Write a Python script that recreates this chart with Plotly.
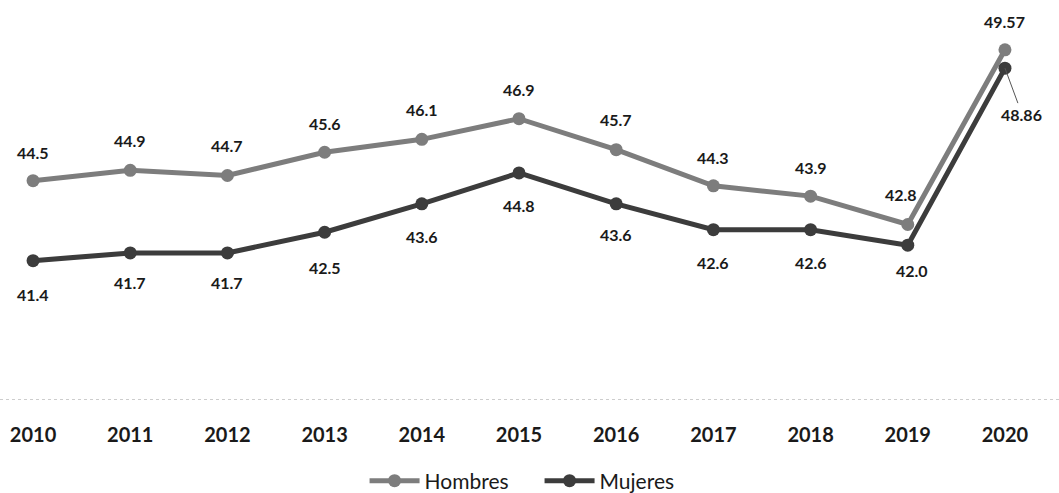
import plotly.graph_objects as go

years = [2010, 2011, 2012, 2013, 2014, 2015, 2016, 2017, 2018, 2019, 2020]
hombres = [44.5, 44.9, 44.7, 45.6, 46.1, 46.9, 45.7, 44.3, 43.9, 42.8, 49.57]
mujeres = [41.4, 41.7, 41.7, 42.5, 43.6, 44.8, 43.6, 42.6, 42.6, 42.0, 48.86]
hombres_labels = ["44.5", "44.9", "44.7", "45.6", "46.1", "46.9", "45.7", "44.3", "43.9", "42.8", "49.57"]
mujeres_labels = ["41.4", "41.7", "41.7", "42.5", "43.6", "44.8", "43.6", "42.6", "42.6", "42.0", "48.86"]

FONT = "Lato"
C_H = "#7d7d7d"
C_M = "#3c3c3c"
TXT = "#1a1a1a"

fig = go.Figure()
fig.add_trace(go.Scatter(
    x=years, y=hombres, name="Hombres", mode="lines+markers",
    line=dict(color=C_H, width=5), marker=dict(size=13, color=C_H),
    hoverinfo="skip"))
fig.add_trace(go.Scatter(
    x=years, y=mujeres, name="Mujeres", mode="lines+markers",
    line=dict(color=C_M, width=5), marker=dict(size=13, color=C_M),
    hoverinfo="skip"))

# label offsets in pixels (xshift, yshift)
h_off = [(0, 28), (0, 30), (0, 30), (0, 29), (0, 30), (0, 29),
         (0, 30), (0, 28), (0, 29), (-7, 30), (0, 28)]
m_off = [(0, -34), (0, -30), (0, -30), (0, -35), (0, -33), (0, -33),
         (0, -31), (0, -33), (0, -33), (4, -25), None]

annotations = []
for x, y, t, o in zip(years, hombres, hombres_labels, h_off):
    annotations.append(dict(x=x, y=y, text="<b>%s</b>" % t, showarrow=False,
                            xshift=o[0], yshift=o[1],
                            font=dict(family=FONT, size=16, color=TXT)))
for x, y, t, o in zip(years, mujeres, mujeres_labels, m_off):
    if o is None:
        annotations.append(dict(x=x, y=y, text="<b>%s</b>" % t, showarrow=True,
                                arrowhead=0, arrowwidth=1, arrowcolor="#555555",
                                ax=17, ay=46,
                                font=dict(family=FONT, size=16, color=TXT)))
    else:
        annotations.append(dict(x=x, y=y, text="<b>%s</b>" % t, showarrow=False,
                                xshift=o[0], yshift=o[1],
                                font=dict(family=FONT, size=16, color=TXT)))

fig.update_layout(
    width=1059, height=493,
    margin=dict(l=0, r=0, t=0, b=93, autoexpand=False),
    paper_bgcolor="white", plot_bgcolor="white",
    showlegend=True,
    legend=dict(orientation="h", x=0.5095, xanchor="center", y=-0.2025, yanchor="middle",
                font=dict(family=FONT, size=21, color=TXT),
                itemwidth=50, entrywidth=110, tracegroupgap=0),
    annotations=annotations,
    shapes=[dict(type="line", xref="paper", yref="y", x0=0, x1=1, y0=36, y1=36,
                 line=dict(color="#9a9a9a", width=1, dash="dot"))],
    xaxis=dict(range=[2009.66, 2020.556], tickmode="array", tickvals=years,
               ticktext=["<b>%d</b>" % y for y in years],
               tickfont=dict(family=FONT, size=20, color=TXT),
               showgrid=False, zeroline=False, showline=False, ticks="",
               ticklabelstandoff=21, automargin=False),
    yaxis=dict(range=[36, 51.5], visible=False, showgrid=False, zeroline=False),
)

fig.write_html("out.html", config={"displayModeBar": False},
               post_script="document.body.style.margin='0';")
